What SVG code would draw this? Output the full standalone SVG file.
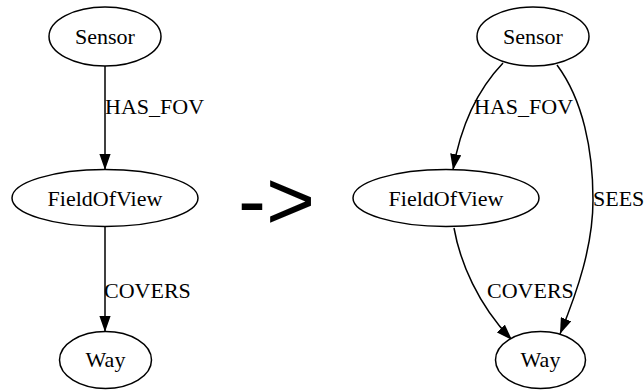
<svg xmlns="http://www.w3.org/2000/svg" width="644" height="390" viewBox="0 0 644 390">
  <defs>
    <marker id="arrow" viewBox="0 0 16 11.2" refX="16" refY="5.6" markerWidth="16" markerHeight="11.2" markerUnits="userSpaceOnUse" orient="auto">
      <path d="M0,0 L16,5.6 L0,11.2 Z" fill="#000"/>
    </marker>
  </defs>
  <style>
    .node ellipse { fill: #fff; stroke: #000; stroke-width: 1.5; }
    .node text, .label { font-family: "Liberation Serif", "Times New Roman", serif; font-size: 22px; fill: #000; }
    .node text { text-anchor: middle; }
    .edge { fill: none; stroke: #000; stroke-width: 1.5; marker-end: url(#arrow); }
    .op { font-family: "Liberation Sans", Arial, sans-serif; font-size: 84px; fill: #000; }
  </style>
  <rect width="644" height="390" fill="#fff"/>

  <!-- before: Sensor -> FieldOfView -> Way -->
  <g id="connectors">
    <path class="edge" d="M105,66 L105,170"/>
    <text class="label" x="105" y="114">HAS_FOV</text>
    <path class="edge" d="M105,227 L105,332"/>
    <text class="label" x="104" y="298">COVERS</text>

    <!-- after: Sensor also SEES Way directly -->
    <path class="edge" d="M503,63 C482,85 462,118 453,170"/>
    <text class="label" x="474" y="114">HAS_FOV</text>
    <path class="edge" d="M557,65 C583,100 593,150 593,200 C593,245 578,290 560,334"/>
    <text class="label" x="593" y="206">SEES</text>
    <path class="edge" d="M454,228 C460,262 478,305 512,340"/>
    <text class="label" x="487" y="298">COVERS</text>
  </g>

  <g id="sensor-a" class="node">
    <ellipse cx="105" cy="36.5" rx="56" ry="29.5"/>
    <text x="105" y="44">Sensor</text>
  </g>
  <g id="fov-a" class="node">
    <ellipse cx="105" cy="198" rx="93" ry="28.5"/>
    <text x="105" y="205.5">FieldOfView</text>
  </g>
  <g id="way-a" class="node">
    <ellipse cx="105.5" cy="360" rx="46" ry="28.5"/>
    <text x="105.5" y="367">Way</text>
  </g>

  <text id="transform-arrow" class="op" x="238" y="229">-&gt;</text>

  <g id="sensor-b" class="node">
    <ellipse cx="533" cy="36.5" rx="56" ry="29.5"/>
    <text x="533" y="44">Sensor</text>
  </g>
  <g id="fov-b" class="node">
    <ellipse cx="446" cy="198" rx="93" ry="28.5"/>
    <text x="446" y="205.5">FieldOfView</text>
  </g>
  <g id="way-b" class="node">
    <ellipse cx="540.5" cy="360" rx="45" ry="28.5"/>
    <text x="540.5" y="367">Way</text>
  </g>
</svg>
